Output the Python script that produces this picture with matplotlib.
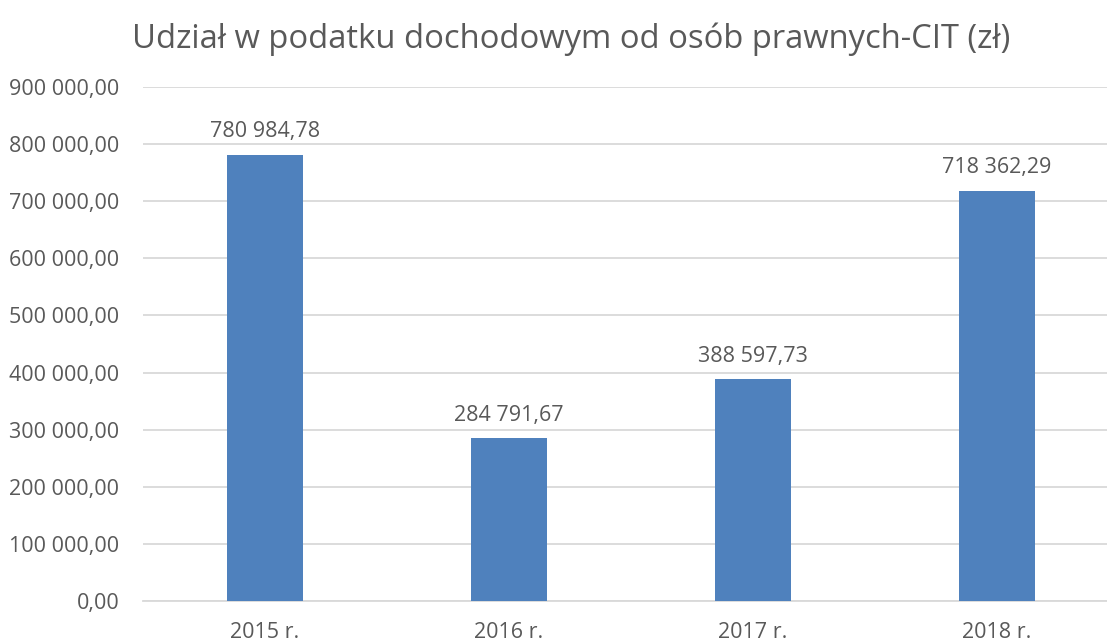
import matplotlib
matplotlib.use("Agg")
import matplotlib.pyplot as plt
from matplotlib.ticker import FuncFormatter

categories = ["2015 r.", "2016 r.", "2017 r.", "2018 r."]
values = [780984.78, 284791.67, 388597.73, 718362.29]
title = "Udział w podatku dochodowym od osób prawnych-CIT (zł)"

plt.rcParams['font.family'] = ['Open Sans', 'DejaVu Sans']
txt = '#595959'

def fmt(v, _=None):
    s = f"{v:,.2f}"
    return s.replace(",", " ").replace(".", ",")

W, H = 1107, 642
fig = plt.figure(figsize=(W/100, H/100), dpi=100)
ax = fig.add_axes([143/W, (H-601)/H, 976/W, (601-87)/H])
x = range(len(categories))
bars = ax.bar(x, values, width=0.31, color='#4F81BD', zorder=3)
ax.set_xlim(-0.5, 3.5)
ax.set_ylim(0, 900000)
ax.set_yticks(range(0, 900001, 100000))
ax.yaxis.set_major_formatter(FuncFormatter(fmt))
ax.set_xticks(list(x))
ax.set_xticklabels(categories)
ax.grid(axis='y', color='#D9D9D9', linewidth=1.3, zorder=0)
for s in ['top', 'right', 'left']:
    ax.spines[s].set_visible(False)
ax.spines['bottom'].set_color('#D9D9D9')
ax.spines['bottom'].set_linewidth(1.3)
ax.tick_params(length=0, labelsize=15.5, labelcolor=txt)
ax.tick_params(axis='y', pad=17)
ax.tick_params(axis='x', pad=15)
for b, v in zip(bars, values):
    ax.annotate(fmt(v), (b.get_x() + b.get_width()/2, v), xytext=(0, 9),
                textcoords='offset points', ha='center', va='bottom',
                fontsize=15.5, color=txt)
fig.text(571/W, 1 - 39/H, title, ha='center', va='center', fontsize=23.6, color=txt)
fig.savefig("out.png", dpi=100)
